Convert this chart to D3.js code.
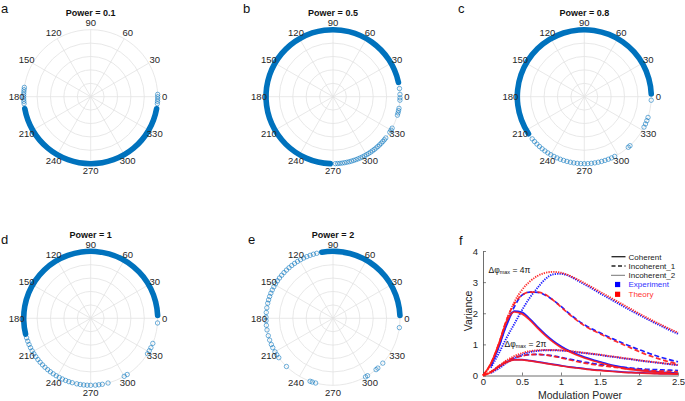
<!DOCTYPE html>
<html><head><meta charset="utf-8">
<script src="https://cdn.jsdelivr.net/npm/d3@7"></script>
<style>body{margin:0;background:#fff}svg{display:block}</style>
</head><body>
<svg id="chart" width="685" height="401"></svg>
<script>
// ---------------- data ----------------
const panelLetters = ["a", "b", "c", "d", "e", "f"];
const polarTitles = ["Power = 0.1", "Power = 0.5", "Power = 0.8", "Power = 1", "Power = 2"];
const thetaTicks = [0, 30, 60, 90, 120, 150, 180, 210, 240, 270, 300, 330];
const radialTicks = [0.2, 0.4, 0.6, 0.8, 1.0];

// dense (overlapping) runs of phase points: [from, to] degrees, counter-clockwise
const denseA = [188, 352];
const denseB = [10, 270];
const denseC = [0, 216];
const denseD = [0, 196];
const denseE = [0, 102];
// individually visible phase points (degrees)
const sparseA = [172, 174, 176, 178, 180, 182, 184, 186, 2, 0, 358, 356, 354];
const sparseB = [7, 2, 359, 357, 350, 348, 346, 344, 332, 330, 328, 322, 320, 318, 316, 314, 312, 310, 308, 306, 304, 302, 300, 298, 296, 294, 292, 290, 288, 286, 284, 282, 280, 278, 276, 274, 272];
const sparseC = [357, 342, 339, 336, 333, 313, 311, 297, 294, 291, 288, 285, 282, 279, 276, 273, 270, 267, 264, 261, 258, 255, 252, 249, 246, 243, 240, 237, 234, 231, 228, 225, 222, 219];
const sparseD = [356, 338, 334, 331, 328, 303, 300, 285, 280, 277, 274, 270, 267, 264, 261, 258, 254, 251, 248, 245, 242, 239, 236, 233, 230, 227, 224, 221, 218, 215, 212, 209, 206, 203, 200, 197];
const sparseE = [352, 318, 312, 310, 301, 299, 255, 252, 250, 226, 216, 213, 210, 206, 203, 199, 195, 190, 186, 182, 179, 175, 171, 167, 164, 161, 158, 155, 152, 149, 146, 143, 140, 137, 134, 131, 128, 125, 122, 119, 116, 113, 110, 107, 104];

// panel f
const xTicks = [0, 0.5, 1, 1.5, 2, 2.5];
const xTickLabels = ["0", "0.5", "1", "1.5", "2", "2.5"];
const yTicks = [0, 1, 2, 3, 4];
const yTickLabels = ["0", "1", "2", "3", "4"];
const xTheory = [0, 0.1, 0.2, 0.3, 0.4, 0.5, 0.6, 0.7, 0.8, 0.9, 1.0, 1.1, 1.2, 1.3, 1.4, 1.5, 1.6, 1.7, 1.8, 1.9, 2.0, 2.1, 2.2, 2.3, 2.4, 2.5];
const xExp = [0.1, 0.2, 0.3, 0.4, 0.5, 0.6, 0.7, 0.8, 0.9, 1.0, 1.1, 1.2, 1.3, 1.4, 1.5, 1.6, 1.7, 1.8, 1.9, 2.0, 2.1, 2.2, 2.3, 2.4, 2.5];

const theoryCoh4 = [0, 0.38, 1.0, 1.72, 2.04, 1.98, 1.78, 1.52, 1.28, 1.07, 0.9, 0.77, 0.66, 0.56, 0.48, 0.41, 0.34, 0.28, 0.23, 0.19, 0.16, 0.13, 0.11, 0.09, 0.07, 0.06];
const expCoh4 = [0.3, 0.9, 1.6, 2.07, 2.03, 1.82, 1.56, 1.32, 1.11, 0.94, 0.8, 0.69, 0.59, 0.51, 0.44, 0.37, 0.31, 0.26, 0.22, 0.18, 0.15, 0.13, 0.11, 0.09, 0.08];
const theoryInc1_4 = [0, 0.38, 1.0, 1.78, 2.3, 2.58, 2.68, 2.68, 2.6, 2.42, 2.2, 1.98, 1.78, 1.6, 1.46, 1.34, 1.22, 1.1, 0.99, 0.88, 0.77, 0.67, 0.58, 0.5, 0.43, 0.37];
const expInc1_4 = [0.3, 0.9, 1.65, 2.2, 2.58, 2.68, 2.67, 2.58, 2.42, 2.22, 2.0, 1.8, 1.63, 1.49, 1.37, 1.25, 1.14, 1.03, 0.93, 0.83, 0.74, 0.65, 0.57, 0.5, 0.44];
const theoryInc2_4 = [0, 0.36, 0.98, 1.75, 2.35, 2.75, 3.02, 3.2, 3.3, 3.33, 3.3, 3.22, 3.1, 2.97, 2.83, 2.69, 2.55, 2.41, 2.27, 2.13, 1.99, 1.86, 1.73, 1.61, 1.49, 1.38];
const expInc2_4 = [0.25, 0.7, 1.2, 1.65, 2.1, 2.5, 2.82, 3.1, 3.25, 3.27, 3.2, 3.07, 2.93, 2.79, 2.64, 2.5, 2.36, 2.22, 2.08, 1.95, 1.82, 1.69, 1.57, 1.45, 1.34];

const theoryCoh2 = [0, 0.1, 0.27, 0.42, 0.5, 0.5, 0.47, 0.43, 0.39, 0.35, 0.31, 0.27, 0.24, 0.21, 0.18, 0.16, 0.14, 0.12, 0.1, 0.09, 0.08, 0.07, 0.06, 0.05, 0.05, 0.04];
const expCoh2 = [0.1, 0.28, 0.43, 0.51, 0.51, 0.48, 0.44, 0.4, 0.36, 0.32, 0.28, 0.25, 0.22, 0.19, 0.17, 0.15, 0.13, 0.11, 0.1, 0.09, 0.08, 0.07, 0.06, 0.06, 0.05];
const theoryInc1_2 = [0, 0.12, 0.3, 0.46, 0.57, 0.63, 0.67, 0.68, 0.66, 0.62, 0.57, 0.51, 0.45, 0.4, 0.36, 0.32, 0.29, 0.26, 0.23, 0.21, 0.19, 0.17, 0.15, 0.14, 0.13, 0.12];
const expInc1_2 = [0.1, 0.28, 0.44, 0.56, 0.63, 0.67, 0.68, 0.66, 0.63, 0.58, 0.53, 0.48, 0.43, 0.39, 0.35, 0.32, 0.29, 0.26, 0.24, 0.22, 0.2, 0.19, 0.18, 0.17, 0.16];
const theoryInc2_2 = [0, 0.12, 0.3, 0.48, 0.62, 0.72, 0.78, 0.81, 0.82, 0.82, 0.81, 0.79, 0.76, 0.73, 0.7, 0.67, 0.63, 0.6, 0.56, 0.53, 0.49, 0.46, 0.43, 0.4, 0.37, 0.34];
const expInc2_2 = [0.08, 0.22, 0.4, 0.55, 0.67, 0.75, 0.79, 0.81, 0.81, 0.8, 0.78, 0.75, 0.72, 0.69, 0.66, 0.62, 0.59, 0.55, 0.52, 0.48, 0.45, 0.42, 0.39, 0.36, 0.33];

const legendLabels = ["Coherent", "Incoherent_1", "Incoherent_2", "Experiment", "Theory"];
const annot4 = ["Δφ", "max", " = 4π"];
const annot2 = ["Δφ", "max", " = 2π"];

// ---------------- drawing ----------------
const svg = d3.select("#chart");
const FONT = "'Liberation Sans', Arial, sans-serif";
const markerBlue = "#0072BD";

const polarLayout = [
  {cx: 90.7, cy: 96.7},
  {cx: 333, cy: 96.7},
  {cx: 584.3, cy: 96.7},
  {cx: 90.7, cy: 318.3},
  {cx: 333, cy: 318.3}
];
const denseAll = [denseA, denseB, denseC, denseD, denseE];
const sparseAll = [sparseA, sparseB, sparseC, sparseD, sparseE];
const rScale = d3.scaleLinear().domain([0, 1]).range([0, 67]);
const toRad = d => d * Math.PI / 180;

polarLayout.forEach((p, i) => {
  const g = svg.append("g").attr("transform", `translate(${p.cx},${p.cy})`);
  g.selectAll("circle.ring").data(radialTicks).enter().append("circle")
    .attr("r", d => rScale(d)).attr("fill", "none")
    .attr("stroke", "#e2e2e2").attr("stroke-width", 0.8);
  g.selectAll("line.spoke").data(thetaTicks).enter().append("line")
    .attr("x1", 0).attr("y1", 0)
    .attr("x2", d => rScale(1) * Math.cos(toRad(d)))
    .attr("y2", d => -rScale(1) * Math.sin(toRad(d)))
    .attr("stroke", "#e2e2e2").attr("stroke-width", 0.8);
  const dn = denseAll[i];
  const arc = d3.arc().innerRadius(rScale(1) - 2.8).outerRadius(rScale(1) + 2.8)
    .cornerRadius(2.8)
    .startAngle(toRad(90 - dn[1])).endAngle(toRad(90 - dn[0]));
  g.append("path").attr("d", arc()).attr("fill", markerBlue);
  g.selectAll("circle.pt").data(sparseAll[i]).enter().append("circle")
    .attr("cx", d => rScale(1) * Math.cos(toRad(d)))
    .attr("cy", d => -rScale(1) * Math.sin(toRad(d)))
    .attr("r", 2.2).attr("fill", "none")
    .attr("stroke", markerBlue).attr("stroke-width", 0.7).attr("stroke-opacity", 0.8);
  g.selectAll("text.tl").data(thetaTicks).enter().append("text")
    .attr("x", d => 74 * Math.cos(toRad(d)))
    .attr("y", d => -74 * Math.sin(toRad(d)))
    .attr("text-anchor", "middle").attr("dominant-baseline", "central")
    .attr("font-family", FONT).attr("font-size", 9.5).attr("fill", "#262626")
    .text(d => d);
  g.append("text").attr("x", 0).attr("y", -80.3)
    .attr("text-anchor", "middle").attr("font-family", FONT)
    .attr("font-size", 9).attr("font-weight", "bold").attr("fill", "#111")
    .text(polarTitles[i]);
});

// panel letters
const letterPos = [[1, 12.5], [243, 12.5], [458, 12.5], [1, 244], [248, 244], [459, 245]];
letterPos.forEach((lp, i) => {
  svg.append("text").attr("x", lp[0]).attr("y", lp[1])
    .attr("font-family", FONT).attr("font-size", 13).attr("fill", "#111")
    .text(panelLetters[i]);
});

// ---------------- panel f ----------------
const x = d3.scaleLinear().domain([0, 2.5]).range([483, 678]);
const y = d3.scaleLinear().domain([0, 4]).range([375.5, 251]);
const fg = svg.append("g");

const xAxis = fg.append("g").attr("transform", `translate(0,${y(0)})`)
  .call(d3.axisBottom(x).tickValues(xTicks).tickFormat((d, i) => xTickLabels[i])
    .tickSizeInner(-3).tickSizeOuter(0).tickPadding(3));
const yAxis = fg.append("g").attr("transform", `translate(${x(0)},0)`)
  .call(d3.axisLeft(y).tickValues(yTicks).tickFormat((d, i) => yTickLabels[i])
    .tickSizeInner(-3).tickSizeOuter(0).tickPadding(5));
[xAxis, yAxis].forEach(a => {
  a.selectAll("path.domain").attr("stroke", "#4a4a4a").attr("stroke-width", 0.8);
  a.selectAll(".tick line").attr("stroke", "#4a4a4a").attr("stroke-width", 0.7);
  a.selectAll(".tick text").attr("font-family", FONT).attr("font-size", 9.5).attr("fill", "#262626");
});

fg.append("text").attr("x", 580).attr("y", 399).attr("text-anchor", "middle")
  .attr("font-family", FONT).attr("font-size", 10.5).attr("fill", "#262626").text("Modulation Power");
fg.append("text").attr("transform", "translate(471.5,311) rotate(-90)").attr("text-anchor", "middle")
  .attr("font-family", FONT).attr("font-size", 10.5).attr("fill", "#262626").text("Variance");

const expColor = "#1f1fff";
const thColor = "#ff1a1a";
const dashStyles = {solid: null, dashed: "5,2.6", dotted: "1.3,1.1"};
const lineGen = (xs) => d3.line().x((d, i) => x(xs[i])).y(d => y(d)).curve(d3.curveMonotoneX);

const expSeries = [
  [expInc2_4, "dotted"], [expInc1_4, "dashed"], [expCoh4, "solid"],
  [expInc2_2, "dotted"], [expInc1_2, "dashed"], [expCoh2, "solid"]
];
const thSeries = [
  [theoryInc2_4, "dotted"], [theoryInc1_4, "dashed"], [theoryCoh4, "solid"],
  [theoryInc2_2, "dotted"], [theoryInc1_2, "dashed"], [theoryCoh2, "solid"]
];
expSeries.forEach(s => {
  fg.append("path").attr("d", lineGen(xExp)(s[0])).attr("fill", "none")
    .attr("stroke", expColor).attr("stroke-width", s[1] === "dotted" ? 1.9 : 1.7)
    .attr("stroke-dasharray", dashStyles[s[1]]);
});
thSeries.forEach(s => {
  fg.append("path").attr("d", lineGen(xTheory)(s[0])).attr("fill", "none")
    .attr("stroke", thColor).attr("stroke-width", s[1] === "dotted" ? 1.9 : 1.7)
    .attr("stroke-opacity", 0.9)
    .attr("stroke-dasharray", dashStyles[s[1]]);
});

function annot(parts, ax, ay) {
  const t = fg.append("text").attr("x", ax).attr("y", ay)
    .attr("font-family", FONT).attr("font-size", 8.5).attr("fill", "#111");
  t.append("tspan").text(parts[0]);
  t.append("tspan").attr("font-size", 5.5).attr("dy", 1.8).text(parts[1]);
  t.append("tspan").attr("dy", -1.8).text(parts[2]);
}
annot(annot4, 488.5, 272.5);
annot(annot2, 504.5, 346.5);

// legend
const legY = [256.7, 266, 275.3, 284.5, 294.3];
const legStyles = ["solid", "dashed", "dotted"];
legStyles.forEach((st, i) => {
  fg.append("line").attr("x1", 611.5).attr("x2", 625.5).attr("y1", legY[i]).attr("y2", legY[i])
    .attr("stroke", "#222").attr("stroke-width", 1.3)
    .attr("stroke-dasharray", st === "dashed" ? "4,2.5" : (st === "dotted" ? "1,1" : null));
});
[0, 1].forEach(j => {
  fg.append("rect").attr("x", 615).attr("y", legY[3 + j] - 2.6).attr("width", 5.2).attr("height", 5.2)
    .attr("fill", j === 0 ? "#0000ff" : "#ff0000");
});
legendLabels.forEach((lab, i) => {
  fg.append("text").attr("x", 628.5).attr("y", legY[i] + 2.9)
    .attr("font-family", FONT).attr("font-size", 8)
    .attr("fill", i === 3 ? "#3333ff" : (i === 4 ? "#ff3333" : "#222"))
    .text(lab);
});
</script>
</body></html>
